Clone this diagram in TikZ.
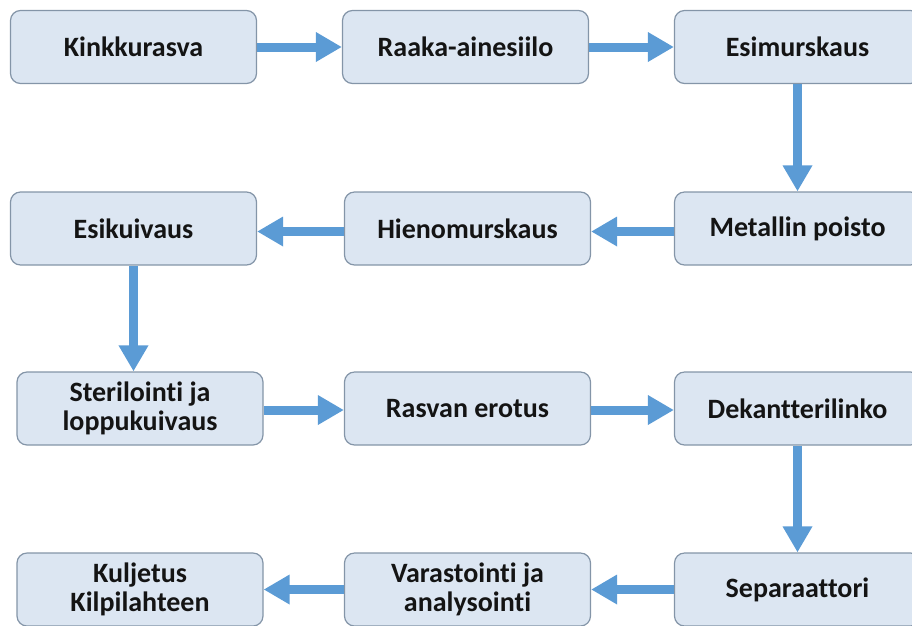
\documentclass[tikz,border=0pt]{standalone}
\usepackage{fontspec}
\setmainfont{Carlito}[Ligatures=NoCommon]
\usetikzlibrary{arrows.meta}
\definecolor{boxfill}{HTML}{DCE6F2}
\definecolor{boxline}{HTML}{8495A8}
\definecolor{arrowblue}{HTML}{5B9BD5}
\definecolor{txt}{HTML}{141414}
\begin{document}
\begin{tikzpicture}[x=1pt,y=-1pt,
  stagebox/.style={draw=boxline, line width=1.2pt, fill=boxfill, rounded corners=10pt,
    minimum width=246pt, minimum height=73pt, inner sep=0pt, align=center, text=txt,
    font=\fontsize{28}{29}\selectfont\bfseries},
  flow/.style={draw=arrowblue, line width=9pt, -{Triangle[length=26pt,width=28pt]}}]
\useasboundingbox (0,0) rectangle (912,625);
\clip (0,0) rectangle (912,625);
% row 1
\node[stagebox] (kink) at (133.5,47) {Kinkkurasva};
\node[stagebox] (raaka) at (465.5,47) {Raaka-ainesiilo};
\node[stagebox] (esim) at (797.5,47) {Esimurskaus};
% row 2
\node[stagebox] (esik) at (133.5,228.5) {Esikuivaus};
\node[stagebox] (hieno) at (467.5,228.5) {Hienomurskaus};
\node[stagebox] (metal) at (797.5,228.5) {Metallin poisto};
% row 3
\node[stagebox] (steril) at (140,408.5) {Sterilointi ja\\loppukuivaus};
\node[stagebox] (rasva) at (467.5,408.5) {Rasvan erotus};
\node[stagebox] (dekant) at (797.5,408.5) {Dekantterilinko};
% row 4
\node[stagebox] (kulj) at (140,589.5) {Kuljetus\\Kilpilahteen};
\node[stagebox] (varas) at (467.5,589.5) {Varastointi ja\\analysointi};
\node[stagebox] (separ) at (797.5,589.5) {Separaattori};
% connectors
\draw[flow] (kink.east) -- (raaka.west);
\draw[flow] (raaka.east) -- (esim.west);
\draw[flow] (esim.south) -- (metal.north);
\draw[flow] ([yshift=-3pt]metal.west) -- ([yshift=-3pt]hieno.east);
\draw[flow] ([yshift=-3pt]hieno.west) -- ([yshift=-3pt]esik.east);
\draw[flow] (esik.south) -- (esik.south |- steril.north);
\draw[flow] ([yshift=-1.5pt]steril.east) -- ([yshift=-1.5pt]rasva.west);
\draw[flow] ([yshift=-1.5pt]rasva.east) -- ([yshift=-1.5pt]dekant.west);
\draw[flow] (dekant.south) -- (separ.north);
\draw[flow] (separ.west) -- (varas.east);
\draw[flow] (varas.west) -- (kulj.east);
\end{tikzpicture}
\end{document}
